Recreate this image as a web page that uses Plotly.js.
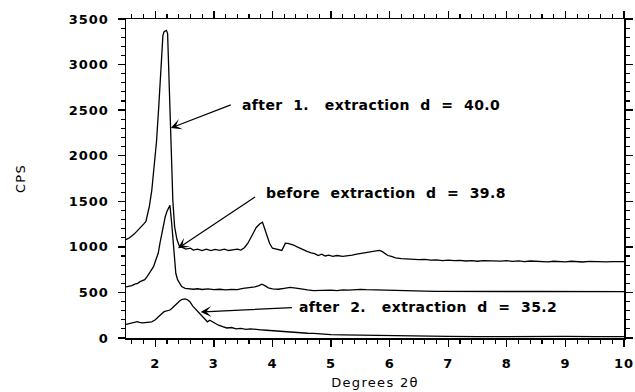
<!DOCTYPE html>
<html>
<head>
<meta charset="utf-8">
<script src="https://cdn.plot.ly/plotly-3.0.1.min.js"></script>
<style>
  html, body { margin: 0; padding: 0; background: #fff; }
  #chart { width: 635px; height: 392px; }
  .xtick text, .ytick text { letter-spacing: 1px; }
  .xtitle, .ytitle { letter-spacing: 1.3px; }
  .annotation-text { letter-spacing: 0.4px; }
</style>
</head>
<body>
<div id="chart"></div>
<script>
// X-ray diffraction scans: intensity (CPS) against 2-theta (degrees)

// Sample after the first extraction (d = 40.0)
const afterFirstX = [1.5, 1.56, 1.64, 1.72, 1.8, 1.84, 1.87, 1.9, 1.94, 1.98, 2.02, 2.06, 2.1, 2.13, 2.15, 2.19, 2.21, 2.23, 2.25, 2.27, 2.28, 2.3, 2.33, 2.37, 2.41, 2.46, 2.52,
  2.6, 2.65, 2.72, 2.8, 2.87, 2.95, 3.02, 3.1, 3.18, 3.25, 3.32, 3.4, 3.46, 3.52, 3.58, 3.63, 3.68, 3.72, 3.78, 3.83, 3.87, 3.91, 3.95, 4.0,
  4.08, 4.16, 4.19, 4.22, 4.28, 4.36, 4.42, 4.5, 4.59, 4.66, 4.72, 4.78, 4.84, 4.9, 4.96, 5.03, 5.1, 5.2, 5.28, 5.36, 5.44, 5.52, 5.6, 5.68,
  5.76, 5.82, 5.87, 5.92, 5.97, 6.03, 6.1, 6.2, 6.3, 6.4, 6.5, 6.6, 6.7, 6.8, 6.9, 7.0, 7.1, 7.2, 7.3, 7.4, 7.5, 7.6, 7.7, 7.8, 7.9, 8.0,
  8.1, 8.2, 8.3, 8.4, 8.5, 8.6, 8.7, 8.8, 8.9, 9.0, 9.1, 9.2, 9.3, 9.4, 9.5, 9.6, 9.7, 9.8, 9.9, 10.0];
const afterFirstY = [1080, 1100, 1140, 1190, 1250, 1280, 1360, 1450, 1620, 1850, 2150, 2550, 3000, 3320, 3360, 3375, 3340, 2900, 2480, 2250, 1900, 1500, 1220, 1080, 1010, 990, 975,
  985, 965, 975, 960, 975, 958, 972, 962, 975, 960, 968, 975, 965, 990, 1040, 1094, 1160, 1210, 1250, 1270, 1200, 1112, 1040, 985,
  975, 960, 1000, 1040, 1035, 1020, 1000, 975, 950, 935, 925, 905, 920, 900, 910, 895, 905, 895, 900, 910, 920, 930, 935, 945,
  955, 962, 950, 925, 905, 895, 880, 870, 865, 868, 860, 863, 855, 858, 850, 855, 848, 852, 845, 850, 842, 848, 845, 850, 843, 848,
  840, 846, 838, 845, 840, 843, 836, 842, 838, 835, 842, 838, 834, 840, 836, 840, 835, 838, 836, 837];

// Sample before extraction (d = 39.8)
const beforeX = [1.5, 1.55, 1.6, 1.65, 1.7, 1.74, 1.78, 1.82, 1.86, 1.9, 1.94, 1.97, 2.0, 2.03, 2.05, 2.08, 2.11, 2.14, 2.17, 2.2, 2.22, 2.25,
  2.28, 2.31, 2.33, 2.35, 2.38, 2.41, 2.45, 2.51, 2.58, 2.65, 2.72, 2.8, 2.9, 3.0, 3.1, 3.2, 3.3, 3.4, 3.5, 3.6, 3.7, 3.77, 3.82, 3.87, 3.93,
  4.0, 4.1, 4.2, 4.3, 4.4, 4.5, 4.6, 4.7, 4.8, 4.9, 5.0, 5.1, 5.2, 5.3, 5.4, 5.5, 5.6, 5.7, 5.8, 5.9, 6.0, 6.2, 6.4, 6.6, 6.8, 7.0, 7.5,
  8.0, 8.5, 9.0, 9.5, 10.0];
const beforeY = [560, 565, 575, 590, 600, 618, 625, 640, 673, 710, 750, 783, 840, 890, 929, 1040, 1149, 1250, 1331, 1390, 1423, 1455,
  1258, 1002, 840, 710, 640, 600, 565, 545, 540, 535, 540, 532, 538, 530, 535, 528, 534, 530, 545, 552, 560, 575, 590, 575, 550,
  540, 535, 545, 556, 548, 535, 528, 520, 522, 518, 525, 520, 528, 525, 530, 534, 530, 528, 527, 522, 520, 518, 515, 514, 512, 513, 512,
  510, 510, 508, 509, 508];

// Sample after the second extraction (d = 35.2)
const afterSecondX = [1.5, 1.55, 1.6, 1.65, 1.69, 1.73, 1.78, 1.82, 1.88, 1.94, 2.0, 2.05, 2.1, 2.15, 2.2, 2.25, 2.29, 2.34, 2.38, 2.42, 2.46,
  2.51, 2.55, 2.59, 2.64, 2.71, 2.77, 2.82, 2.86, 2.89, 2.93, 2.97, 3.02, 3.08, 3.15, 3.22, 3.3, 3.38, 3.46, 3.55, 3.62, 3.7, 3.8, 3.9,
  4.0, 4.1, 4.2, 4.3, 4.4, 4.5, 4.6, 4.7, 4.8, 4.9, 5.0, 5.2, 5.4, 5.6, 5.8, 6.0, 6.2, 6.5, 7.0, 7.5, 8.0, 8.5, 8.8, 9.0, 9.5, 10.0];
const afterSecondY = [150, 158, 165, 175, 180, 172, 165, 168, 170, 178, 200, 234, 260, 289, 300, 307, 330, 362, 390, 409, 425,
  430, 420, 398, 350, 300, 255, 225, 190, 178, 195, 180, 155, 140, 125, 110, 115, 100, 105, 95, 100, 92, 90, 85,
  80, 72, 70, 65, 62, 60, 52, 50, 44, 40, 38, 34, 32, 28, 26, 20, 18, 16, 17, 15, 16, 18, 25, 18, 15, 16];

// Axis ranges and tick spacing
const xRange = [1.5, 10];
const yRange = [0, 3500];
const xMajorStep = 1, xMinorStep = 0.2;
const yMajorStep = 500, yMinorStep = 100;

const lineStyle = { color: '#000', width: 1.3 };
const traces = [
  { x: afterFirstX, y: afterFirstY, name: 'after 1. extraction', type: 'scatter', mode: 'lines', line: lineStyle },
  { x: beforeX, y: beforeY, name: 'before extraction', type: 'scatter', mode: 'lines', line: lineStyle },
  { x: afterSecondX, y: afterSecondY, name: 'after 2. extraction', type: 'scatter', mode: 'lines', line: lineStyle }
];

const NB = '\u00A0';
const sp = n => NB.repeat(n);
const labelFont = { family: 'DejaVu Sans', size: 14, color: '#000', weight: 'bold' };

function label(text, x, y) {
  return { text, x, y, xref: 'x', yref: 'y', xanchor: 'left', yanchor: 'middle',
    showarrow: false, font: labelFont, borderpad: 0, borderwidth: 0 };
}
function arrow(x, y, ax, ay) {
  return { text: '', x, y, ax, ay, xref: 'x', yref: 'y', axref: 'x', ayref: 'y',
    showarrow: true, arrowhead: 3, arrowsize: 1.5, arrowwidth: 1.2, arrowcolor: '#000', standoff: 0 };
}

const layout = {
  width: 635, height: 392,
  margin: { l: 126, r: 11, t: 19, b: 54 },
  paper_bgcolor: '#fff', plot_bgcolor: '#fff',
  showlegend: false,
  xaxis: {
    range: xRange, tickmode: 'linear', tick0: 0, dtick: xMajorStep,
    showline: true, linecolor: '#000', linewidth: 1.5, mirror: 'ticks',
    ticks: 'outside', ticklen: 7, tickwidth: 1.3, tickcolor: '#000',
    showgrid: false, zeroline: false,
    tickfont: { family: 'DejaVu Sans', size: 13, color: '#000', weight: 'bold' },
    ticklabelstandoff: 6,
    minor: { dtick: xMinorStep, tick0: 0, ticks: 'outside', ticklen: 4, tickwidth: 1.1, tickcolor: '#000', showgrid: false },
    title: { text: 'Degrees 2θ', standoff: 8, font: { family: 'DejaVu Sans', size: 13, color: '#000' } }
  },
  yaxis: {
    range: yRange, tickmode: 'linear', tick0: 0, dtick: yMajorStep,
    showline: true, linecolor: '#000', linewidth: 1.5, mirror: 'ticks',
    ticks: 'outside', ticklen: 7, tickwidth: 1.3, tickcolor: '#000',
    showgrid: false, zeroline: false,
    tickfont: { family: 'DejaVu Sans', size: 13, color: '#000', weight: 'bold' },
    ticklabelstandoff: 6,
    minor: { dtick: yMinorStep, tick0: 0, ticks: 'outside', ticklen: 4, tickwidth: 1.1, tickcolor: '#000', showgrid: false },
    title: { text: 'CPS', standoff: 40, font: { family: 'DejaVu Sans', size: 13, color: '#000' } }
  },
  annotations: [
    label('after' + sp(2) + '1.' + sp(3) + 'extraction' + sp(2) + 'd' + sp(2) + '=' + sp(2) + '40.0', 3.484, 2556),
    label('before' + sp(2) + 'extraction' + sp(2) + 'd' + sp(2) + '=' + sp(2) + '39.8', 3.898, 1588),
    label('after' + sp(2) + '2.' + sp(3) + 'extraction' + sp(2) + 'd' + sp(2) + '=' + sp(2) + '35.2', 4.448, 337),
    arrow(2.264, 2304, 3.314, 2564),
    arrow(2.388, 984, 3.728, 1558),
    arrow(2.774, 285, 4.357, 335)
  ]
};

Plotly.newPlot('chart', traces, layout, { staticPlot: true, displayModeBar: false });
</script>
</body>
</html>
